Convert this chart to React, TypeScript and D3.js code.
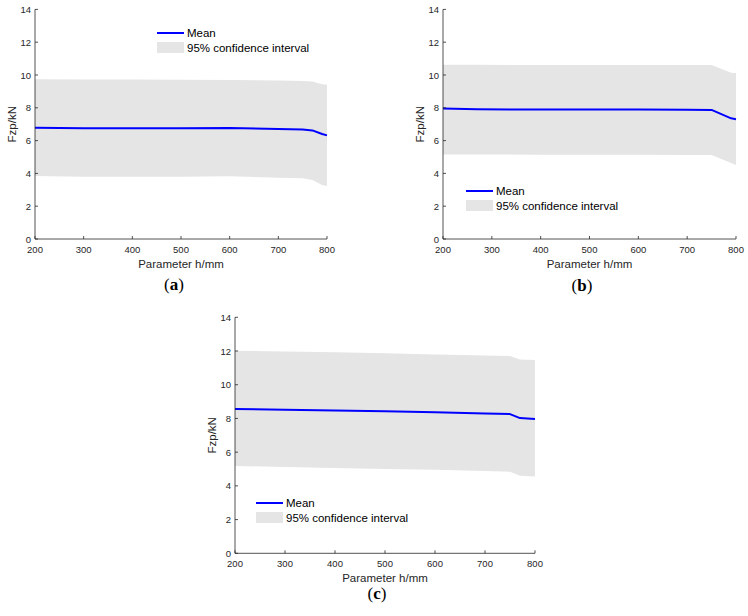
import React from "react";
import * as d3 from "d3";

// Parameter h (mm) sample points and Fzp (kN) statistics for each case
const hA = [200, 300, 400, 500, 600, 700, 750, 770, 790, 800];
const meanA = [6.79, 6.76, 6.75, 6.76, 6.77, 6.7, 6.67, 6.62, 6.4, 6.32];
const upperA = [9.74, 9.73, 9.72, 9.71, 9.7, 9.66, 9.63, 9.6, 9.43, 9.4];
const lowerA = [3.84, 3.8, 3.79, 3.8, 3.82, 3.74, 3.7, 3.6, 3.3, 3.23];

const hB = [200, 270, 400, 500, 600, 700, 750, 790, 800];
const meanB = [7.95, 7.91, 7.89, 7.89, 7.89, 7.88, 7.87, 7.36, 7.3];
const upperB = [10.62, 10.62, 10.61, 10.61, 10.61, 10.61, 10.61, 10.14, 10.12];
const lowerB = [5.16, 5.15, 5.14, 5.14, 5.13, 5.12, 5.12, 4.63, 4.51];

const hC = [200, 300, 400, 500, 600, 700, 750, 770, 800];
const meanC = [8.56, 8.52, 8.47, 8.42, 8.37, 8.3, 8.26, 8.02, 7.97];
const upperC = [12.02, 11.97, 11.92, 11.86, 11.8, 11.74, 11.7, 11.5, 11.47];
const lowerC = [5.18, 5.12, 5.06, 5.0, 4.95, 4.88, 4.84, 4.6, 4.55];

const xTicks = [200, 300, 400, 500, 600, 700, 800];
const yTicks = [0, 2, 4, 6, 8, 10, 12, 14];
const xLabel = "Parameter h/mm";
const yLabel = "Fzp/kN";
const legendMean = "Mean";
const legendCI = "95% confidence interval";

const AXIS = "#262626";
const FILL = "#e5e5e5";
const BLUE = "#0000ff";
const SANS = "Arial, 'Liberation Sans', sans-serif";

type PanelProps = {
  h: number[];
  mean: number[];
  upper: number[];
  lower: number[];
  left: number;
  right: number;
  top: number;
  bottom: number;
  legendX: number;
  legendY: number;
  caption: string;
  captionX: number;
  captionY: number;
};

function Panel(p: PanelProps) {
  const x = d3.scaleLinear().domain([200, 800]).range([p.left, p.right]);
  const y = d3.scaleLinear().domain([0, 14]).range([p.bottom, p.top]);
  const rows = p.h.map((hv, i) => ({ h: hv, m: p.mean[i], u: p.upper[i], l: p.lower[i] }));
  const area = d3
    .area<typeof rows[number]>()
    .x((d) => x(d.h))
    .y0((d) => y(d.l))
    .y1((d) => y(d.u));
  const line = d3
    .line<typeof rows[number]>()
    .x((d) => x(d.h))
    .y((d) => y(d.m));
  const tickLen = 3;
  return (
    <g>
      <path d={area(rows) ?? ""} fill={FILL} stroke="none" />
      <path d={line(rows) ?? ""} fill="none" stroke={BLUE} strokeWidth={2} strokeLinejoin="round" />
      {/* axes */}
      <line x1={p.left} x2={p.left} y1={p.top} y2={p.bottom} stroke={AXIS} strokeWidth={0.8} />
      <line x1={p.left} x2={p.right} y1={p.bottom} y2={p.bottom} stroke={AXIS} strokeWidth={0.8} />
      {xTicks.map((t) => (
        <g key={"x" + t}>
          <line x1={x(t)} x2={x(t)} y1={p.bottom} y2={p.bottom - tickLen} stroke={AXIS} strokeWidth={0.8} />
          <text x={x(t)} y={p.bottom + 10} textAnchor="middle" dominantBaseline="central" fontSize={9.5} fill={AXIS} fontFamily={SANS}>
            {t}
          </text>
        </g>
      ))}
      {yTicks.map((t) => (
        <g key={"y" + t}>
          <line x1={p.left} x2={p.left + tickLen} y1={y(t)} y2={y(t)} stroke={AXIS} strokeWidth={0.8} />
          <text x={p.left - 4} y={y(t)} textAnchor="end" dominantBaseline="central" fontSize={9.5} fill={AXIS} fontFamily={SANS}>
            {t}
          </text>
        </g>
      ))}
      <text x={(p.left + p.right) / 2} y={p.bottom + 24.5} textAnchor="middle" dominantBaseline="central" fontSize={11.5} fill={AXIS} fontFamily={SANS}>
        {xLabel}
      </text>
      <text
        transform={`translate(${p.left - 23},${(p.top + p.bottom) / 2}) rotate(-90)`}
        textAnchor="middle"
        dominantBaseline="central"
        fontSize={11.5}
        fill={AXIS}
        fontFamily={SANS}
      >
        {yLabel}
      </text>
      {/* legend */}
      <line x1={p.legendX} x2={p.legendX + 27} y1={p.legendY} y2={p.legendY} stroke={BLUE} strokeWidth={2} />
      <text x={p.legendX + 30} y={p.legendY} dominantBaseline="central" fontSize={11.5} fill="#000" fontFamily={SANS}>
        {legendMean}
      </text>
      <rect x={p.legendX} y={p.legendY + 9} width={27} height={11} fill={FILL} />
      <text x={p.legendX + 30} y={p.legendY + 15} dominantBaseline="central" fontSize={11.5} fill="#000" fontFamily={SANS}>
        {legendCI}
      </text>
      {/* caption */}
      <text x={p.captionX} y={p.captionY} textAnchor="middle" dominantBaseline="central" fontSize={17} fill="#000" fontFamily="'Liberation Serif', 'DejaVu Serif', serif">
        (<tspan fontWeight="bold">{p.caption}</tspan>)
      </text>
    </g>
  );
}

export default function App() {
  return (
    <svg width={748} height={616} style={{ position: "absolute", left: 0, top: 0, background: "#fff" }}>
      <Panel h={hA} mean={meanA} upper={upperA} lower={lowerA} left={35} right={327} top={9.4} bottom={239}
        legendX={157} legendY={33} caption="a" captionX={174} captionY={284} />
      <Panel h={hB} mean={meanB} upper={upperB} lower={lowerB} left={443} right={736} top={9.4} bottom={239}
        legendX={466} legendY={191} caption="b" captionX={582} captionY={285} />
      <Panel h={hC} mean={meanC} upper={upperC} lower={lowerC} left={235} right={535} top={317.3} bottom={553.3}
        legendX={256} legendY={503} caption="c" captionX={377} captionY={593} />
    </svg>
  );
}
